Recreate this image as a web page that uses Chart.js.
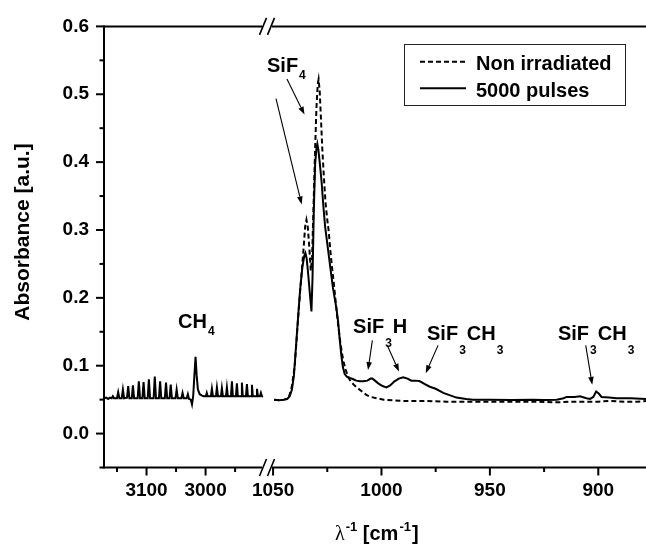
<!DOCTYPE html>
<html><head><meta charset="utf-8">
<script src="https://cdn.jsdelivr.net/npm/chart.js@4/dist/chart.umd.min.js"></script>
<style>html,body{margin:0;padding:0;background:#fff;}#wrap{position:relative;width:646px;height:544px;}</style>
</head><body><div id="wrap"><canvas id="c"></canvas></div>
<script>
// ---------- data ----------
const seriesNames = ['Non irradiated', '5000 pulses'];

// CH4 region (5000 pulses)
const leftWn = [3172,3168,3165,3162,3159,3157,3155,3150,3148,3146,3142,3140,3138,3133,3131,3129,3125,3123,3121,3115,3113,3111,3107,3105,3103,3098,3096,3094,3088,3086,3084,3079,3077,3075,3069,3067,3065,3061,3059,3057,3051,3049,3047,3041,3039,3037,3032,3030,3028,3025,3023,3021,3019,3017,3015,3013,3010,3006,3003,2999.5,2998,2996.5,2991,2989.3,2987.6,2982.5,2980.8,2979,2974,2972.4,2970.7,2965.5,2963.9,2962.3,2957,2955.4,2953.8,2948.6,2947,2945.4,2940,2938.5,2937,2931.6,2930,2928.4,2923,2921.5,2920,2914.6,2913,2911.4,2908,2906.3,2904.6,2903];
const leftPulses = [0.052,0.053,0.051,0.053,0.052,0.055,0.052,0.052,0.061,0.052,0.052,0.065,0.052,0.053,0.070,0.052,0.052,0.071,0.052,0.052,0.077,0.052,0.052,0.076,0.052,0.052,0.080,0.052,0.052,0.084,0.052,0.052,0.077,0.052,0.052,0.075,0.052,0.052,0.072,0.052,0.052,0.065,0.052,0.052,0.060,0.052,0.052,0.058,0.051,0.050,0.043,0.055,0.085,0.113,0.085,0.065,0.058,0.056,0.055,0.055,0.060,0.055,0.055,0.066,0.055,0.055,0.068,0.055,0.055,0.067,0.055,0.055,0.068,0.055,0.055,0.077,0.055,0.055,0.074,0.055,0.055,0.075,0.055,0.055,0.073,0.055,0.055,0.072,0.055,0.055,0.066,0.055,0.055,0.060,0.055,0.054];

// SiF4 region, non irradiated
const rightWnNon = [1049.5,1047,1045,1043.5,1042.5,1041.3,1040,1039,1038,1037,1036,1035.2,1034.6,1034,1033.3,1032.6,1032,1031.3,1030.6,1030,1029.4,1029,1028.5,1028,1027.3,1026.6,1025.8,1025,1024.4,1023.6,1022.8,1022.2,1021.3,1020.5,1019.8,1019,1018.2,1017.5,1016.5,1015.2,1014,1012.5,1011,1009,1007,1005,1002,999,995,990,980,970,960,950,940,930,920,912,905,900,895,888,882,878];
const rightNon = [0.050,0.049,0.050,0.051,0.056,0.070,0.100,0.145,0.190,0.230,0.270,0.305,0.315,0.305,0.275,0.240,0.260,0.340,0.420,0.480,0.515,0.522,0.505,0.470,0.420,0.380,0.340,0.315,0.300,0.270,0.245,0.228,0.200,0.175,0.155,0.135,0.118,0.106,0.094,0.082,0.076,0.071,0.067,0.062,0.057,0.054,0.052,0.050,0.049,0.048,0.048,0.047,0.047,0.047,0.047,0.047,0.046,0.047,0.047,0.047,0.048,0.047,0.047,0.048];

// SiF4 region, 5000 pulses
const rightWnPulses = [1049.5,1047,1045,1043.5,1042.3,1041.3,1040.4,1039.5,1038.5,1037.5,1036.5,1035.6,1035.1,1034.5,1033.8,1033.0,1032.3,1031.8,1031.2,1030.6,1030.0,1029.6,1029.1,1028.4,1027.6,1026.8,1026.0,1025.2,1024.2,1023.2,1022.4,1021.6,1020.8,1020.0,1019.3,1018.5,1017.8,1017.0,1016.0,1014.6,1013.0,1011.6,1010.0,1008.5,1006.5,1005.0,1004.2,1003,1001.5,999.5,997.7,996,994,992,990,988,986.2,984,982.3,980,977.7,975,971.5,968,965.4,961,957.7,950,940,930,925,919.2,916,914.6,911,908.4,905.5,903.8,902.3,901.0,899.8,898.5,895,891.6,885,878];
const rightPulses = [0.050,0.049,0.050,0.051,0.055,0.065,0.085,0.125,0.170,0.213,0.245,0.262,0.266,0.258,0.235,0.205,0.180,0.230,0.330,0.397,0.420,0.427,0.418,0.397,0.370,0.335,0.305,0.285,0.260,0.235,0.215,0.200,0.185,0.165,0.140,0.115,0.098,0.088,0.084,0.082,0.080,0.078,0.077,0.077,0.078,0.081,0.081,0.078,0.074,0.070,0.068,0.071,0.077,0.081,0.083,0.081,0.078,0.078,0.077,0.073,0.069,0.066,0.060,0.056,0.053,0.051,0.050,0.050,0.0495,0.050,0.0495,0.050,0.052,0.054,0.054,0.055,0.052,0.051,0.054,0.062,0.059,0.054,0.053,0.052,0.052,0.051];

// axis ticks
const xTickLabels = [3100, 3000, 1050, 1000, 950, 900];
const xMinorTicks = [3150, 3050, 2950, 1025, 975, 925];
const yTickLabels = [0.0, 0.1, 0.2, 0.3, 0.4, 0.5, 0.6];
const yMinorTicks = [-0.05, 0.05, 0.15, 0.25, 0.35, 0.45, 0.55];

// annotations (positions in data units: wavenumber, absorbance)
const annotationLabels = [
  {parts: [['SiF', 0], ['4', 1]], wn: 1052.8, abs: 0.533, subDrop: 7},
  {parts: [['CH', 0], ['4', 1]], wn: 3046.7, abs: 0.1557, subDrop: 7},
  {parts: [['SiF', 0], ['3', 1], ['H', 0]], wn: 1013.1, abs: 0.1485, subDrop: 14},
  {parts: [['SiF', 0], ['3', 1], ['CH', 0], ['3', 1]], wn: 979.0, abs: 0.1383, subDrop: 14},
  {parts: [['SiF', 0], ['3', 1], ['CH', 0], ['3', 1]], wn: 918.6, abs: 0.1383, subDrop: 14}
];
const annotationArrows = [
  [1048.65, 0.4935, 1036.8, 0.3377],
  [1043.6, 0.5226, 1035.5, 0.470],
  [1004.2, 0.1373, 1006.2, 0.0936],
  [997.0, 0.1277, 991.9, 0.0913],
  [973.9, 0.1300, 979.6, 0.0888],
  [905.8, 0.1300, 902.8, 0.0718]
];

// ---------- broken axis mapping ----------
const leftAxisRange = [3172, 2896];
const rightAxisRange = [1052.8, 878];
const leftSegmentShare = 163 / 542;
function toU(wn) {
  if (wn > 2000) return (leftAxisRange[0] - wn) / (leftAxisRange[0] - leftAxisRange[1]) * leftSegmentShare;
  return leftSegmentShare + (rightAxisRange[0] - wn) / (rightAxisRange[0] - rightAxisRange[1]) * (1 - leftSegmentShare);
}

const FONT = "'Liberation Sans', Arial, sans-serif";
const pulsesPoints = leftWn.map((w, i) => ({x: toU(w), y: leftPulses[i]}))
  .concat([{x: leftSegmentShare, y: null}])
  .concat(rightWnPulses.map((w, i) => ({x: toU(w), y: rightPulses[i]})));
const nonPoints = rightWnNon.map((w, i) => ({x: toU(w), y: rightNon[i]}));

function seg(ctx, x1, y1, x2, y2) { ctx.beginPath(); ctx.moveTo(x1, y1); ctx.lineTo(x2, y2); ctx.stroke(); }

const overlay = {
  id: 'overlay',
  afterDraw(chart) {
    const {ctx, chartArea: a, scales: {x, y}} = chart;
    const bx = x.getPixelForValue(leftSegmentShare);
    ctx.save();
    ctx.strokeStyle = '#000'; ctx.fillStyle = '#000'; ctx.lineCap = 'butt';
    // axis lines
    ctx.lineWidth = 2;
    seg(ctx, a.left, a.top - 1, a.left, a.bottom + 1);
    [a.top, a.bottom].forEach(yy => {
      seg(ctx, a.left, yy, bx - 5, yy);
      seg(ctx, bx + 5, yy, a.right + 2, yy);
      ctx.lineWidth = 1.6;
      seg(ctx, bx - 7.5, yy + 8.5, bx - 0.5, yy - 8.5);
      seg(ctx, bx + 0.5, yy + 8.5, bx + 7.5, yy - 8.5);
      ctx.lineWidth = 2;
    });
    // y ticks
    ctx.lineWidth = 2;
    yTickLabels.forEach(v => { const p = y.getPixelForValue(v); seg(ctx, a.left - 8, p, a.left, p); });
    yMinorTicks.forEach(v => { const p = y.getPixelForValue(v); seg(ctx, a.left - 4.5, p, a.left, p); });
    // x ticks
    xTickLabels.forEach(w => { const p = x.getPixelForValue(toU(w)); seg(ctx, p, a.bottom, p, a.bottom + 8); });
    xMinorTicks.forEach(w => { const p = x.getPixelForValue(toU(w)); seg(ctx, p, a.bottom, p, a.bottom + 4.5); });

    // annotations
    annotationLabels.forEach(l => {
      let px = x.getPixelForValue(toU(l.wn));
      const py = y.getPixelForValue(l.abs);
      ctx.textAlign = 'left'; ctx.textBaseline = 'alphabetic';
      l.parts.forEach(([t, sub]) => {
        ctx.font = sub ? `bold 12px ${FONT}` : `bold 20px ${FONT}`;
        ctx.fillText(t, px + (sub ? 1 : 0), sub ? py + l.subDrop : py);
        px += ctx.measureText(t).width + (sub ? 2 : 0);
      });
    });
    ctx.lineWidth = 1.1;
    annotationArrows.forEach(([w1, a1, w2, a2]) => {
      const x1 = x.getPixelForValue(toU(w1)), y1 = y.getPixelForValue(a1);
      const x2 = x.getPixelForValue(toU(w2)), y2 = y.getPixelForValue(a2);
      const ang = Math.atan2(y2 - y1, x2 - x1), L = 8, W = 2.8;
      const bxh = x2 - L * Math.cos(ang), byh = y2 - L * Math.sin(ang);
      seg(ctx, x1, y1, bxh, byh);
      ctx.beginPath();
      ctx.moveTo(x2, y2);
      ctx.lineTo(bxh + W * Math.sin(ang), byh - W * Math.cos(ang));
      ctx.lineTo(bxh - W * Math.sin(ang), byh + W * Math.cos(ang));
      ctx.closePath(); ctx.fill();
    });

    // legend
    ctx.lineWidth = 1; ctx.strokeStyle = '#222';
    ctx.strokeRect(404.5, 44.5, 221, 61);
    ctx.strokeStyle = '#000'; ctx.lineWidth = 2;
    const ds = chart.data.datasets;
    [[61.7, 70], [88.3, 96.7]].forEach(([ly, ty], i) => {
      ctx.setLineDash(ds[i].borderDash || []);
      seg(ctx, 420, ly, 466, ly);
      ctx.setLineDash([]);
      ctx.font = `bold 20px ${FONT}`; ctx.textAlign = 'left'; ctx.textBaseline = 'alphabetic';
      ctx.fillText(ds[i].label, 476, ty);
    });

    // axis titles
    ctx.save();
    ctx.translate(23, 232); ctx.rotate(-Math.PI / 2);
    ctx.font = `bold 21px ${FONT}`; ctx.textAlign = 'center'; ctx.textBaseline = 'middle';
    ctx.fillText('Absorbance [a.u.]', 0, 0);
    ctx.restore();
    let tx = 335; const tb = 540;
    ctx.textAlign = 'left'; ctx.textBaseline = 'alphabetic';
    ctx.font = `20px 'Liberation Serif', serif`; ctx.fillText('λ', tx, tb); tx += ctx.measureText('λ').width + 1;
    ctx.font = `bold 13px ${FONT}`; ctx.fillText('-1', tx, tb - 9); tx += ctx.measureText('-1').width;
    ctx.font = `bold 20px ${FONT}`; ctx.fillText(' [cm', tx, tb); tx += ctx.measureText(' [cm').width + 1;
    ctx.font = `bold 13px ${FONT}`; ctx.fillText('-1', tx, tb - 9); tx += ctx.measureText('-1').width + 1;
    ctx.font = `bold 20px ${FONT}`; ctx.fillText(']', tx, tb);
    ctx.restore();
  }
};

new Chart(document.getElementById('c'), {
  type: 'line',
  data: {
    datasets: [
      {label: seriesNames[0], data: nonPoints, borderColor: '#000', borderWidth: 2, borderDash: [5, 3], pointRadius: 0, tension: 0, fill: false, spanGaps: false},
      {label: seriesNames[1], data: pulsesPoints, borderColor: '#000', borderWidth: 2, pointRadius: 0, tension: 0, fill: false, spanGaps: false}
    ]
  },
  options: {
    responsive: true, maintainAspectRatio: false, animation: false, devicePixelRatio: 1,
    layout: {padding: {top: 21, right: 0, left: 0, bottom: 0}},
    plugins: {legend: {display: false}, tooltip: {enabled: false}},
    scales: {
      x: {
        type: 'linear', min: 0, max: 1,
        afterBuildTicks: s => { s.ticks = xTickLabels.map(w => ({value: toU(w)})); },
        afterFit: s => { s.height = 76.5; },
        ticks: {autoSkip: false, maxRotation: 0, minRotation: 0, padding: 12, color: '#000',
          font: {family: FONT, size: 19, weight: 'bold'}, callback: (v, i) => String(xTickLabels[i])},
        grid: {display: false, drawTicks: false}, border: {display: false}
      },
      y: {
        type: 'linear', min: -0.05, max: 0.6,
        afterBuildTicks: s => { s.ticks = yTickLabels.map(v => ({value: v})); },
        afterFit: s => { s.width = 104; },
        ticks: {padding: 15, color: '#000', font: {family: FONT, size: 19, weight: 'bold'}, callback: v => v.toFixed(1)},
        grid: {display: false, drawTicks: false}, border: {display: false}
      }
    }
  },
  plugins: [overlay]
});
</script></body></html>
